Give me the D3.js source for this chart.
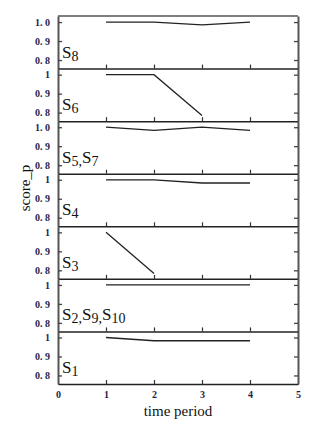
<!DOCTYPE html>
<html>
<head>
<meta charset="utf-8">
<script src="https://cdn.jsdelivr.net/npm/d3@7"></script>
<style>
  body { margin: 0; background: #fff; }
  svg text { font-family: "Liberation Serif", "DejaVu Serif", serif; }
</style>
</head>
<body>
<div id="chart"></div>
<script>
// time periods and the panel series (top to bottom)
var periods = [1, 2, 3, 4]
var xTicks = [0, 1, 2, 3, 4, 5]
var yTicks = [0.8, 0.9, 1.0]

var s8 = [1.0, 1.0, 0.985, 1.0]
var s6 = [1.0, 1.0, 0.785]
var s5s7 = [1.0, 0.983, 1.0, 0.983]
var s4 = [1.0, 1.0, 0.983, 0.983]
var s3 = [1.0, 0.783]
var s2s9s10 = [1.0, 1.0, 1.0, 1.0]
var s1 = [1.0, 0.983, 0.983, 0.983]

var panelSeries = [s8, s6, s5s7, s4, s3, s2s9s10, s1]
var panelNames = [["8"], ["6"], ["5", "7"], ["4"], ["3"], ["2", "9", "10"], ["1"]]
var topTickLabel = ["1. 0", "1", "1. 0", "1", "1", "1", "1"]

var W = 324, H = 438
var mLeft = 58, mRight = 298, mTop = 16, mBottom = 384
var ph = (mBottom - mTop) / panelSeries.length
var serif = "Liberation Serif, DejaVu Serif, serif"

var svg = d3.select("#chart").append("svg")
  .attr("width", W).attr("height", H)

var x = d3.scaleLinear().domain([0, 5]).range([mLeft, mRight])

panelSeries.forEach(function(series, p) {
  var y0 = mTop + p * ph
  var y = d3.scaleLinear().domain([0.755, 1.032]).range([y0 + ph, y0])
  var g = svg.append("g")
  var last = p === panelSeries.length - 1

  var ax = g.append("g").attr("transform", "translate(" + mLeft + ",0)")
    .call(d3.axisLeft(y).tickValues(yTicks).tickSizeInner(-4).tickSizeOuter(0).tickPadding(8)
      .tickFormat(function(d) { return d === 1 ? topTickLabel[p] : d3.format(".1f")(d).replace(".", ". ") }))
  ax.attr("font-family", serif)
  ax.select(".domain").attr("stroke", "#555").attr("stroke-width", 2)
  ax.selectAll(".tick line").attr("stroke", "#444").attr("stroke-width", 1.3)
  ax.selectAll("text").attr("font-size", 10).attr("fill", "#1e1e4a").attr("font-weight", "bold")

  var ar = g.append("g").attr("transform", "translate(" + mRight + ",0)")
    .call(d3.axisRight(y).tickValues(yTicks).tickSizeInner(-4).tickSizeOuter(0).tickFormat(""))
  ar.select(".domain").attr("stroke", "#555").attr("stroke-width", 2)
  ar.selectAll(".tick line").attr("stroke", "#444").attr("stroke-width", 1.3)

  var ab = g.append("g").attr("transform", "translate(0," + (y0 + ph) + ")")
    .call(d3.axisBottom(x).tickValues(last ? xTicks : periods)
      .tickSizeInner(-4).tickSizeOuter(0).tickPadding(7)
      .tickFormat(last ? d3.format("d") : ""))
  ab.attr("font-family", serif)
  ab.select(".domain").attr("stroke", "#222").attr("stroke-width", 1.5)
  ab.selectAll(".tick line").attr("stroke", "#333").attr("stroke-width", 1.2)
  ab.selectAll(".tick").filter(function(d) { return d === 0 || d === 5 }).select("line").remove()
  ab.selectAll("text").attr("font-size", 10).attr("fill", "#1e1e4a").attr("font-weight", "bold")

  if (p === 0) {
    g.append("line").attr("x1", mLeft).attr("x2", mRight).attr("y1", y0).attr("y2", y0)
      .attr("stroke", "#555").attr("stroke-width", 1.5)
  }

  g.append("path")
    .datum(series)
    .attr("fill", "none")
    .attr("stroke", "#222")
    .attr("stroke-width", 1.3)
    .attr("d", d3.line()
      .x(function(d, i) { return x(periods[i]) })
      .y(function(d) { return y(d) }))

  // panel label like S5,S7
  var t = g.append("text").attr("x", mLeft + 4).attr("y", y0 + ph - 11)
    .attr("fill", "#111").attr("font-family", serif)
  panelNames[p].forEach(function(n, i) {
    t.append("tspan").attr("font-size", 17).attr("dy", i === 0 ? 0 : -3).text("S")
    t.append("tspan").attr("font-size", 14).attr("dy", 3)
      .text(n + (i < panelNames[p].length - 1 ? "," : ""))
  })
})

svg.append("text").attr("x", x(2.5)).attr("y", 416)
  .attr("text-anchor", "middle").attr("font-size", 15).attr("fill", "#111")
  .attr("font-family", serif)
  .text("time period")

svg.append("text").attr("transform", "translate(30,188) rotate(-90)")
  .attr("text-anchor", "middle").attr("font-size", 15).attr("fill", "#111")
  .attr("font-family", serif)
  .text("score_p")
</script>
</body>
</html>
